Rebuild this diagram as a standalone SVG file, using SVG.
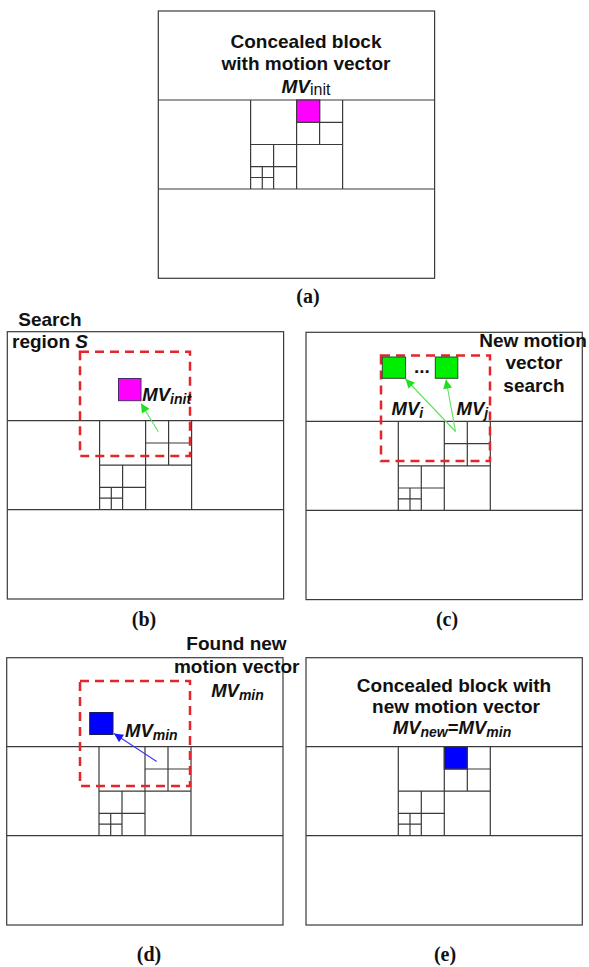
<svg xmlns="http://www.w3.org/2000/svg" xmlns:xlink="http://www.w3.org/1999/xlink" width="589" height="967" viewBox="0 0 589 967">
<style>
  .g { fill: none; stroke: #3a3a3a; stroke-width: 1.2; }
  .t { font-family: "Liberation Sans", Arial, sans-serif; font-weight: bold; font-size: 19px; fill: #111; }
  .mv { font-family: "Liberation Sans", Arial, sans-serif; font-weight: bold; font-style: italic; font-size: 18.5px; fill: #111; }
  .lab { font-family: "Liberation Serif", "Times New Roman", serif; font-weight: bold; font-size: 20px; fill: #111; text-anchor: middle; }
  .region { fill: none; stroke: #e3262b; stroke-width: 2.5; stroke-dasharray: 9 6; }
  .ga { stroke: #5ee05e; stroke-width: 1.1; fill: none; }
  .ba { stroke: #3a3af0; stroke-width: 1.1; fill: none; }
</style>
<defs>
  <g id="grid">
    <rect class="g" x="0" y="0" width="276.3" height="267.3"/>
    <path class="g" d="M0,89H276.3M0,178H276.3M92.3,89V178M138.3,89V178M184.3,89V178M92.3,133.5H184.3M161.3,89V133.5M138.3,111.3H184.3M115.3,133.5V178M92.3,155.7H138.3M104,155.7V178M92.3,166.5H115.3"/>
  </g>
  <marker id="ahg" viewBox="0 0 10 10" refX="10" refY="5" markerWidth="11" markerHeight="9" markerUnits="userSpaceOnUse" orient="auto">
    <path d="M0,0L10,5L0,10z" fill="#1ee01e"/>
  </marker>
  <marker id="ahb" viewBox="0 0 10 10" refX="10" refY="5" markerWidth="11" markerHeight="9" markerUnits="userSpaceOnUse" orient="auto">
    <path d="M0,0L10,5L0,10z" fill="#1a1af0"/>
  </marker>
</defs>

<!-- Panel (a) -->
<g id="panel-a">
  <use xlink:href="#grid" href="#grid" transform="translate(158.3,11)"/>
  <rect id="a-block" x="296.6" y="100" width="23" height="22.3" fill="#ff00ff" stroke="#3a3a3a" stroke-width="1.2"/>
  <text class="t" x="306" y="47.5" text-anchor="middle">Concealed block</text>
  <text class="t" x="306" y="70" text-anchor="middle">with motion vector</text>
  <text class="t" x="306" y="92.5" text-anchor="middle"><tspan font-style="italic">MV</tspan><tspan font-size="16" font-weight="normal" dy="2">init</tspan></text>
  <text class="lab" x="308" y="302.5">(a)</text>
</g>

<!-- Panel (b) -->
<g id="panel-b">
  <use xlink:href="#grid" href="#grid" transform="translate(7.3,331.7)"/>
  <rect id="b-region" class="region" x="80" y="351.7" width="110" height="104.3"/>
  <rect id="b-block" x="118.5" y="378.5" width="22.5" height="22.2" fill="#ff00ff" stroke="#4a2a6a" stroke-width="1"/>
  <text class="t" x="50" y="326" text-anchor="middle">Search</text>
  <text class="t" x="50" y="347.7" text-anchor="middle">region <tspan font-style="italic">S</tspan></text>
  <text class="mv" x="142.3" y="400.5">MV<tspan font-size="14" dy="3">init</tspan></text>
  <text class="lab" x="144" y="626">(b)</text>
</g>

<!-- Panel (c) -->
<g id="panel-c">
  <use xlink:href="#grid" href="#grid" transform="translate(306,332.3)"/>
  <rect id="c-region" class="region" x="381" y="355.5" width="109" height="105.5"/>
  <rect id="c-block-i" x="382.3" y="357" width="23.3" height="21.3" fill="#00ee00" stroke="#2a4a2a" stroke-width="1"/>
  <rect id="c-block-j" x="435.3" y="357" width="22.5" height="21.3" fill="#00ee00" stroke="#2a4a2a" stroke-width="1"/>
  <text class="t" x="414" y="373" font-size="17">...</text>
  <text class="t" x="533" y="346.7" text-anchor="middle">New motion</text>
  <text class="t" x="534" y="369.3" text-anchor="middle">vector</text>
  <text class="t" x="534" y="391.7" text-anchor="middle">search</text>
  <text class="mv" x="391.5" y="415">MV<tspan font-size="14" dy="3">i</tspan></text>
  <text class="mv" x="456.5" y="415">MV<tspan font-size="14" dy="3">j</tspan></text>
  <text class="lab" x="447" y="626">(c)</text>
</g>

<!-- Panel (d) -->
<g id="panel-d">
  <use xlink:href="#grid" href="#grid" transform="translate(6.7,657.7)"/>
  <rect id="d-region" class="region" x="80" y="681" width="110" height="105"/>
  <rect id="d-block" x="89.7" y="712.5" width="23.3" height="22" fill="#0000ff" stroke="#1a1a5a" stroke-width="1"/>
  <text class="t" x="236.5" y="650" text-anchor="middle">Found new</text>
  <text class="t" x="236.7" y="673.3" text-anchor="middle">motion vector</text>
  <text class="mv" x="237.5" y="696.7" text-anchor="middle">MV<tspan font-size="14" dy="3">min</tspan></text>
  <text class="mv" x="125" y="736.7">MV<tspan font-size="14" dy="3">min</tspan></text>
  <text class="lab" x="149" y="961">(d)</text>
</g>

<!-- Panel (e) -->
<g id="panel-e">
  <use xlink:href="#grid" href="#grid" transform="translate(306,657.7)"/>
  <rect id="e-block" x="444.3" y="746.7" width="23" height="22.3" fill="#0000ff" stroke="#3a3a3a" stroke-width="1.2"/>
  <text class="t" x="454" y="691.7" text-anchor="middle">Concealed block with</text>
  <text class="t" x="456" y="712.7" text-anchor="middle">new motion vector</text>
  <text class="mv" x="452" y="734" text-anchor="middle">MV<tspan font-size="14" dy="3">new</tspan><tspan font-style="normal" dy="-3">=</tspan>MV<tspan font-size="14" dy="3">min</tspan></text>
  <text class="lab" x="445" y="961">(e)</text>
</g>

<!-- Connectors -->
<g id="connectors">
  <line class="ga" x1="158.3" y1="431.7" x2="141" y2="403.5" marker-end="url(#ahg)"/>
  <line class="ga" x1="455.5" y1="431.5" x2="405.5" y2="379" marker-end="url(#ahg)"/>
  <line class="ga" x1="455.5" y1="431.5" x2="446" y2="379.5" marker-end="url(#ahg)"/>
  <line class="ba" x1="156.7" y1="761.5" x2="114" y2="733.5" marker-end="url(#ahb)"/>
</g>
</svg>
